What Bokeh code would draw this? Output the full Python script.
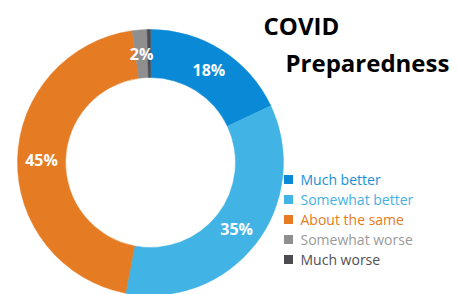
import numpy as np
from bokeh.plotting import figure
from bokeh.models import ColumnDataSource, Range1d
from bokeh.core.properties import value
from bokeh.embed import file_html
from bokeh.resources import INLINE

categories = ["Much better", "Somewhat better", "About the same", "Somewhat worse", "Much worse"]
shares = [18.0, 35.0, 44.8, 1.8, 0.4]
pct_labels = ["18%", "35%", "45%", "2%", ""]
slice_colors = ["#0a8ad6", "#41b4e5", "#e57b22", "#8f8f8f", "#4b4b50"]
legend_text_colors = ["#1a8fd6", "#45b2e3", "#e57b22", "#9a9a9a", "#505055"]
title_lines = ["COVID", "Preparedness"]

W, H = 458, 294
p = figure(width=W, height=H, output_backend="svg", toolbar_location=None,
           x_range=Range1d(0, W), y_range=Range1d(0, H), min_border=0)
p.axis.visible = False
p.grid.visible = False
p.outline_line_color = None
p.background_fill_color = "white"
p.border_fill_color = "white"

cx, cy = 150, 132
r_out, r_in = 133, 85

vals = np.array(shares)
cum = np.concatenate([[0], np.cumsum(vals)]) / vals.sum()
start = np.pi / 2 - 2 * np.pi * cum[:-1]
end = np.pi / 2 - 2 * np.pi * cum[1:]
mid = (start + end) / 2
r_mid = (r_out + r_in) / 2

src = ColumnDataSource(dict(start=start, end=end, color=slice_colors,
                            lx=cx + r_mid * np.cos(mid), ly=cy + r_mid * np.sin(mid),
                            lab=pct_labels))
p.annular_wedge(x=cx, y=cy, inner_radius=r_in, outer_radius=r_out,
                start_angle="start", end_angle="end", direction="clock",
                fill_color="color", line_color="color", line_width=0.5, source=src)
p.text(x="lx", y="ly", text="lab", source=src, text_color="white",
       text_font=value("Open Sans"), text_font_style="bold", text_font_size="16px",
       text_align="center", text_baseline="middle")

# legend
n = len(categories)
ly = [115 - 20 * i for i in range(n)]
p.scatter(x=[288] * n, y=ly, marker="square", size=9, fill_color=slice_colors,
          line_color=None)
p.text(x=[300] * n, y=ly, text=categories, text_color=legend_text_colors,
       text_font=value("Open Sans"), text_font_size="14px", text_baseline="middle")

# title
p.text(x=[263, 285], y=[269, 232], text=title_lines, text_color="black",
       text_font=value("Open Sans"), text_font_style="bold", text_font_size="24px",
       text_baseline="middle")

open("out.html", "w").write(file_html(p, INLINE))
